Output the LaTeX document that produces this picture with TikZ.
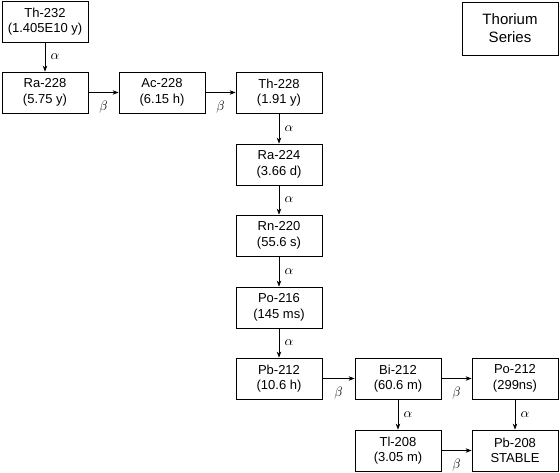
\documentclass[tikz,border=0pt]{standalone}
\usepackage{fontspec}
\setmainfont{Liberation Sans}
\usetikzlibrary{arrows.meta}
\newcommand{\alp}{\scalebox{1.35}{$\alpha$}}
\newcommand{\bet}{\scalebox{1.35}{$\beta$}}
\begin{document}
\begin{tikzpicture}[x=1pt,y=-1pt,
  box/.style={draw, line width=0.8pt, minimum width=86pt, minimum height=41pt, inner sep=0pt, align=center, font=\fontsize{13}{15.5}\selectfont},
  arr/.style={-{Stealth[length=6pt,width=4.5pt]}, line width=0.7pt},
  alab/.style={right=2pt},
  blab/.style={below=5pt}]
\useasboundingbox (0,0) rectangle (560,473);
\node[box] (th232) at (45,21.5) {Th-232\\(1.405E10 y)};
\node[box] (ra228) at (45,92.5) {Ra-228\\(5.75 y)};
\node[box] (ac228) at (162,92.5) {Ac-228\\(6.15 h)};
\node[box] (th228) at (279,92.5) {Th-228\\(1.91 y)};
\node[box] (ra224) at (279,164.5) {Ra-224\\(3.66 d)};
\node[box] (rn220) at (279,235.5) {Rn-220\\(55.6 s)};
\node[box] (po216) at (279,307.5) {Po-216\\(145 ms)};
\node[box] (pb212) at (279,378.5) {Pb-212\\(10.6 h)};
\node[box] (bi212) at (398,378.5) {Bi-212\\(60.6 m)};
\node[box] (po212) at (515,378.5) {Po-212\\(299ns)};
\node[box] (tl208) at (398,450.5) {Tl-208\\(3.05 m)};
\node[box] (pb208) at (515,450.5) {Pb-208\\STABLE};
\node[box, minimum width=96pt, minimum height=53pt, font=\fontsize{15}{18}\selectfont] (series) at (510,28.5) {Thorium\\Series};
\draw[arr] (th232) -- node[alab] {\alp} (ra228);
\draw[arr] (ra228) -- node[blab] {\bet} (ac228);
\draw[arr] (ac228) -- node[blab] {\bet} (th228);
\draw[arr] (th228) -- node[alab] {\alp} (ra224);
\draw[arr] (ra224) -- node[alab] {\alp} (rn220);
\draw[arr] (rn220) -- node[alab] {\alp} (po216);
\draw[arr] (po216) -- node[alab] {\alp} (pb212);
\draw[arr] (pb212) -- node[blab] {\bet} (bi212);
\draw[arr] (bi212) -- node[blab] {\bet} (po212);
\draw[arr] (bi212) -- node[alab] {\alp} (tl208);
\draw[arr] (po212) -- node[alab] {\alp} (pb208);
\draw[arr] (tl208) -- node[blab] {\bet} (pb208);
\end{tikzpicture}
\end{document}
